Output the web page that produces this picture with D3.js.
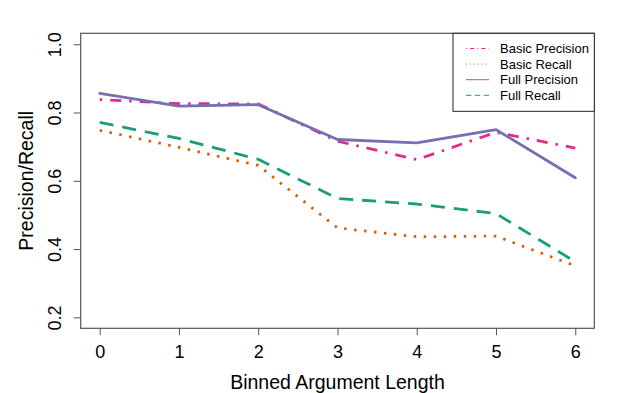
<!DOCTYPE html>
<html>
<head>
<meta charset="utf-8">
<script src="https://cdn.jsdelivr.net/npm/d3@7"></script>
<style>
  body { margin: 0; background: #fff; }
  text { font-family: "Liberation Sans", Arial, Helvetica, sans-serif; fill: #000; }
</style>
</head>
<body>
<div id="chart"></div>
<script>
const bins = [0, 1, 2, 3, 4, 5, 6];
const basicPrecision = [0.838, 0.826, 0.825, 0.716, 0.662, 0.742, 0.696];
const basicRecall = [0.748, 0.698, 0.645, 0.462, 0.436, 0.438, 0.351];
const fullPrecision = [0.856, 0.819, 0.823, 0.721, 0.711, 0.750, 0.609];
const fullRecall = [0.771, 0.724, 0.663, 0.548, 0.532, 0.504, 0.363];
const seriesNames = ['Basic Precision', 'Basic Recall', 'Full Precision', 'Full Recall'];
const yTicks = [0.2, 0.4, 0.6, 0.8, 1.0];

const width = 628;
const height = 393;
const box = { left: 80.7, right: 594.3, top: 33.3, bottom: 328.3 };

const series = [
  { name: seriesNames[0], values: basicPrecision, color: '#E7298A', dash: '2.5,8,11,8', cap: 'butt' },
  { name: seriesNames[1], values: basicRecall, color: '#D95F02', dash: '2.5,7.5', cap: 'butt' },
  { name: seriesNames[2], values: fullPrecision, color: '#7570B3', dash: null, cap: 'round' },
  { name: seriesNames[3], values: fullRecall, color: '#1B9E77', dash: '14,9', cap: 'butt' }
];

/* Scale (R style 4% padding) */
const xScale = d3.scaleLinear()
  .domain([-0.24, 6.24])
  .range([box.left, box.right]);

const yScale = d3.scaleLinear()
  .domain([0.2 - 0.032, 1.0 + 0.032])
  .range([box.bottom, box.top]);

const svg = d3.select('#chart').append('svg')
  .attr('width', width)
  .attr('height', height);

/* Axes */
const xAxis = d3.axisBottom(xScale)
  .tickValues(bins)
  .tickFormat(d3.format('d'))
  .tickSizeInner(7)
  .tickSizeOuter(0);

const yAxis = d3.axisLeft(yScale)
  .tickValues(yTicks)
  .tickFormat(d3.format('.1f'))
  .tickSizeInner(7)
  .tickSizeOuter(0);

svg.append('g')
  .attr('class', 'x axis')
  .attr('transform', `translate(0, ${box.bottom})`)
  .call(xAxis)
  .call(g => {
    g.select('.domain').remove();
    g.selectAll('.tick line').attr('stroke', '#555');
    g.selectAll('.tick text')
      .attr('dy', null)
      .attr('y', 30)
      .style('font-size', '18px');
  });

svg.append('g')
  .attr('class', 'y axis')
  .attr('transform', `translate(${box.left}, 0)`)
  .call(yAxis)
  .call(g => {
    g.select('.domain').remove();
    g.selectAll('.tick line').attr('stroke', '#555');
    g.selectAll('.tick text')
      .attr('transform', 'rotate(-90)')
      .attr('x', 0)
      .attr('y', -19.5)
      .attr('dy', null)
      .attr('text-anchor', 'middle')
      .style('font-size', '18px');
  });

/* Plot box */
svg.append('rect')
  .attr('x', box.left)
  .attr('y', box.top)
  .attr('width', box.right - box.left)
  .attr('height', box.bottom - box.top)
  .attr('fill', 'none')
  .attr('stroke', '#555')
  .attr('stroke-width', 1.2);

/* Axis titles */
svg.append('text')
  .attr('x', (box.left + box.right) / 2)
  .attr('y', 389)
  .attr('text-anchor', 'middle')
  .style('font-size', '19.5px')
  .text('Binned Argument Length');

svg.append('text')
  .attr('transform', `translate(33, ${(box.top + box.bottom) / 2}) rotate(-90)`)
  .attr('text-anchor', 'middle')
  .style('font-size', '19.5px')
  .text('Precision/Recall');

/* Lines */
const line = d3.line()
  .x((d, i) => xScale(bins[i]))
  .y(d => yScale(d));

svg.append('g')
  .attr('class', 'lines')
  .selectAll('path')
  .data(series).enter()
  .append('path')
  .attr('d', d => line(d.values))
  .attr('fill', 'none')
  .attr('stroke', d => d.color)
  .attr('stroke-width', 2.8)
  .attr('stroke-linecap', d => d.cap)
  .attr('stroke-linejoin', 'round')
  .attr('stroke-dasharray', d => d.dash);

/* Legend */
const legend = svg.append('g').attr('class', 'legend');

legend.append('rect')
  .attr('x', 453)
  .attr('y', box.top)
  .attr('width', box.right - 453)
  .attr('height', 78)
  .attr('fill', '#fff')
  .attr('stroke', '#222')
  .attr('stroke-width', 1);

const items = legend.selectAll('.item')
  .data(series).enter()
  .append('g')
  .attr('class', 'item')
  .attr('transform', (d, i) => `translate(0, ${48.5 + i * 15.6})`);

items.append('line')
  .attr('x1', 466)
  .attr('x2', 489)
  .attr('y1', 0)
  .attr('y2', 0)
  .attr('stroke', d => d.color)
  .attr('stroke-width', 1)
  .attr('stroke-dasharray', d => d.dash ? d.dash.split(',').map(v => +v / 2.6).join(',') : null);

items.append('text')
  .attr('x', 500)
  .attr('y', 4.5)
  .style('font-size', '13px')
  .text(d => d.name);
</script>
</body>
</html>
